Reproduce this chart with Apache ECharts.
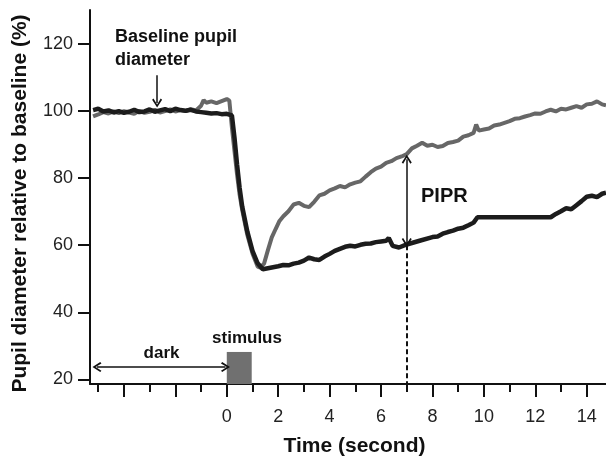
<!DOCTYPE html>
<html>
<head>
<meta charset="utf-8">
<script src="https://cdn.jsdelivr.net/npm/echarts@6/dist/echarts.min.js"></script>
<style>html,body{margin:0;padding:0;background:#fff}#c{width:606px;height:457px}</style>
</head>
<body>
<div id="c"></div>
<script>
// ---- data ----
const darkTime = [-5.2,-5.0,-4.8,-4.6,-4.4,-4.2,-4.0,-3.8,-3.6,-3.4,-3.2,-3.0,-2.8,-2.6,-2.4,-2.2,-2.0,-1.8,-1.6,-1.4,-1.2,-1.0,-0.8,-0.6,-0.4,-0.2,0.0,0.2,
  0.3,0.4,0.5,0.6,0.8,1.0,1.2,1.4,1.6,1.8,2.0,2.2,2.4,2.6,2.8,3.0,3.2,3.4,3.6,3.8,4.0,4.2,4.4,4.6,4.8,5.0,5.2,5.4,5.6,5.8,6.0,6.2,6.3,6.45,6.7,7.0,7.5,8.0,8.2,8.4,8.6,8.8,9.0,9.2,9.4,9.6,9.75,12.6,12.8,13.0,13.2,13.4,13.6,13.8,14.0,14.2,14.4,14.6,14.75];
const darkValue = [100.2,100.6,99.8,100.1,99.5,99.9,99.4,99.7,100.3,99.6,99.8,100.4,99.7,100.1,100.5,99.9,100.6,100.2,100.0,100.3,99.8,99.6,99.4,99.2,99.3,99.0,99.1,98.6,
  92,84,77,71.5,64,58.3,54.6,52.8,53.1,53.4,53.7,54.1,54.0,54.5,54.8,55.4,56.3,55.8,55.6,56.6,57.4,58.3,58.9,59.5,59.8,59.6,60.1,60.4,60.5,60.9,61.1,61.3,62.1,59.8,59.3,60.2,61.3,62.4,62.6,63.4,63.9,64.3,64.9,65.2,65.9,66.7,68.3,68.3,69.3,70.1,71.0,70.7,71.9,73.1,74.4,74.7,74.3,75.3,75.6];
const grayTime = [-5.2,-5.0,-4.8,-4.6,-4.4,-4.2,-4.0,-3.8,-3.6,-3.4,-3.2,-3.0,-2.8,-2.6,-2.4,-2.2,-2.0,-1.8,-1.6,-1.4,-1.2,-1.0,-0.9,-0.8,-0.6,-0.4,-0.2,0.0,0.1,
  0.2,0.3,0.4,0.5,0.6,0.8,1.0,1.2,1.3,1.45,1.6,1.75,1.9,2.05,2.2,2.4,2.6,2.8,3.0,3.2,3.4,3.6,3.8,4.0,4.2,4.4,4.6,4.8,5.0,5.2,5.4,5.6,5.8,6.0,6.2,6.4,6.6,6.8,7.0,7.2,7.4,7.6,7.8,8.0,8.2,8.4,8.6,8.8,9.0,9.2,9.4,9.6,9.7,9.8,10.0,10.2,10.4,10.6,10.8,11.0,11.2,11.4,11.6,11.8,12.0,12.2,12.4,12.6,12.8,13.0,13.2,13.4,13.6,13.8,14.0,14.2,14.4,14.6,14.75];
const grayValue = [98.3,98.9,99.6,99.2,99.8,99.3,99.9,99.5,99.1,100.0,99.4,99.7,100.3,99.5,99.9,100.4,99.8,100.2,99.9,100.5,100.1,101.5,103.2,102.4,102.8,102.3,102.9,103.5,103.0,
  95,88,81,75,70.5,63,57.5,53.6,53.3,54.5,58.5,62.3,64.8,67.2,68.6,70.1,72.1,72.6,71.7,71.3,72.9,74.8,75.3,76.3,76.9,77.6,77.2,78.1,78.6,79.0,80.4,81.7,82.8,83.4,84.5,85.0,85.9,86.4,87.1,88.8,89.6,90.5,89.6,89.9,89.2,89.5,90.4,90.7,91.1,92.3,92.7,93.4,95.9,94.1,94.4,94.7,95.6,95.9,96.4,96.9,97.6,97.8,98.3,98.7,99.2,99.1,99.8,100.3,99.8,100.6,100.4,100.9,101.4,100.9,101.9,102.1,102.8,101.9,101.6];
const yTicks = [20,40,60,80,100,120];
const xLabels = [0,2,4,6,8,10,12,14];
const xMajorTicks = [-4,-2,0,2,4,6,8,10,12,14];
const xMinorTicks = [-5,-3,-1,1,3,5,7,9,11,13];
const stimulus = [0, 0.97, 28.2];   // start, end (s), top (%)
const piprTime = 7, piprTop = 85.6, piprBottom = 60.8;
const darkArrow = [-5.05, -0.05, 23.7];
const baselineArrow = [-2.71, 110.6, 102.3];

const Y_MIN = 18.66, Y_MAX = 130, X_MIN = -5.32, X_MAX = 14.75;
const FONT = 'Liberation Sans, Arial, sans-serif';
const chevron = 'path://M5,0 L10,8 L8.6,9.2 L5,3.2 L1.4,9.2 L0,8 Z';

const pairs = (t, v) => t.map((x, i) => [x, v[i]]);
const chart = echarts.init(document.getElementById('c'), null, {renderer: 'canvas'});

chart.setOption({
  animation: false,
  backgroundColor: '#fff',
  grid: {left: 90, right: 0, top: 10, bottom: 73},
  xAxis: [{
    type: 'value', min: X_MIN, max: X_MAX, position: 'bottom',
    axisLine: {show: true, onZero: false, lineStyle: {color: '#111', width: 2}},
    axisTick: {show: true, length: 13, customValues: xMajorTicks, lineStyle: {color: '#111', width: 2}},
    axisLabel: {customValues: xLabels, margin: 24, fontSize: 18, color: '#222', fontFamily: FONT},
    splitLine: {show: false}
  }, {
    type: 'value', min: X_MIN, max: X_MAX, position: 'bottom',
    axisLine: {show: false},
    axisTick: {show: true, length: 8, customValues: xMinorTicks, lineStyle: {color: '#111', width: 2}},
    axisLabel: {show: false},
    splitLine: {show: false}
  }],
  yAxis: {
    type: 'value', min: Y_MIN, max: Y_MAX,
    axisLine: {show: true, onZero: false, lineStyle: {color: '#111', width: 2}},
    axisTick: {show: true, length: 12, customValues: yTicks, lineStyle: {color: '#111', width: 2}},
    axisLabel: {customValues: yTicks, margin: 17, fontSize: 18, color: '#222', fontFamily: FONT},
    splitLine: {show: false}
  },
  series: [
    {
      type: 'line', name: 'stimulusArea', data: [], silent: true,
      markArea: {silent: true, itemStyle: {color: '#707070'},
        data: [[{coord: [stimulus[0], Y_MIN]}, {coord: [stimulus[1], stimulus[2]]}]]}
    },
    {
      type: 'line', name: 'gray', data: pairs(grayTime, grayValue), showSymbol: false,
      lineStyle: {color: '#676767', width: 4}, z: 3
    },
    {
      type: 'line', name: 'dark', data: pairs(darkTime, darkValue), showSymbol: false,
      lineStyle: {color: '#1c1c1c', width: 4.5}, z: 4
    },
    {
      type: 'line', name: 'annotations', data: [], z: 5,
      markLine: {
        silent: true, animation: false,
        label: {show: false},
        data: [
          [{coord: [piprTime, piprTop], symbol: chevron, symbolSize: [10, 9]},
           {coord: [piprTime, piprBottom], symbol: chevron, symbolSize: [10, 9],
            lineStyle: {color: '#111', width: 1.5, type: 'solid'}}],
          [{coord: [piprTime, piprBottom - 0.8], symbol: 'none'},
           {coord: [piprTime, Y_MIN], symbol: 'none',
            lineStyle: {color: '#111', width: 2, type: [5, 3]}}],
          [{coord: [darkArrow[0], darkArrow[2]], symbol: chevron, symbolSize: [10, 9]},
           {coord: [darkArrow[1], darkArrow[2]], symbol: chevron, symbolSize: [10, 9],
            lineStyle: {color: '#111', width: 1.5, type: 'solid'}}],
          [{coord: [baselineArrow[0], baselineArrow[1]], symbol: 'none'},
           {coord: [baselineArrow[0], baselineArrow[2]], symbol: chevron, symbolSize: [10, 9],
            lineStyle: {color: '#111', width: 1.5, type: 'solid'}}]
        ]
      }
    }
  ],
  graphic: [
    {type: 'text', left: 115, top: 28, style: {text: 'Baseline pupil', font: 'bold 18px ' + FONT, fill: '#111'}},
    {type: 'text', left: 115, top: 51, style: {text: 'diameter', font: 'bold 18px ' + FONT, fill: '#111'}},
    {type: 'text', left: 421, top: 186, style: {text: 'PIPR', font: 'bold 20px ' + FONT, fill: '#111'}},
    {type: 'text', x: 161.5, y: 353, style: {text: 'dark', font: 'bold 17px ' + FONT, fill: '#111', align: 'center', verticalAlign: 'middle'}},
    {type: 'text', x: 247, y: 338, style: {text: 'stimulus', font: 'bold 17px ' + FONT, fill: '#111', align: 'center', verticalAlign: 'middle'}},
    {type: 'text', x: 354.5, y: 446, style: {text: 'Time (second)', font: 'bold 21px ' + FONT, fill: '#111', align: 'center', verticalAlign: 'middle'}},
    {type: 'text', x: 20.5, y: 203.5, rotation: Math.PI / 2,
     style: {text: 'Pupil diameter relative to baseline (%)', font: 'bold 21px ' + FONT, fill: '#111', align: 'center', verticalAlign: 'middle'}}
  ]
});
</script>
</body>
</html>
